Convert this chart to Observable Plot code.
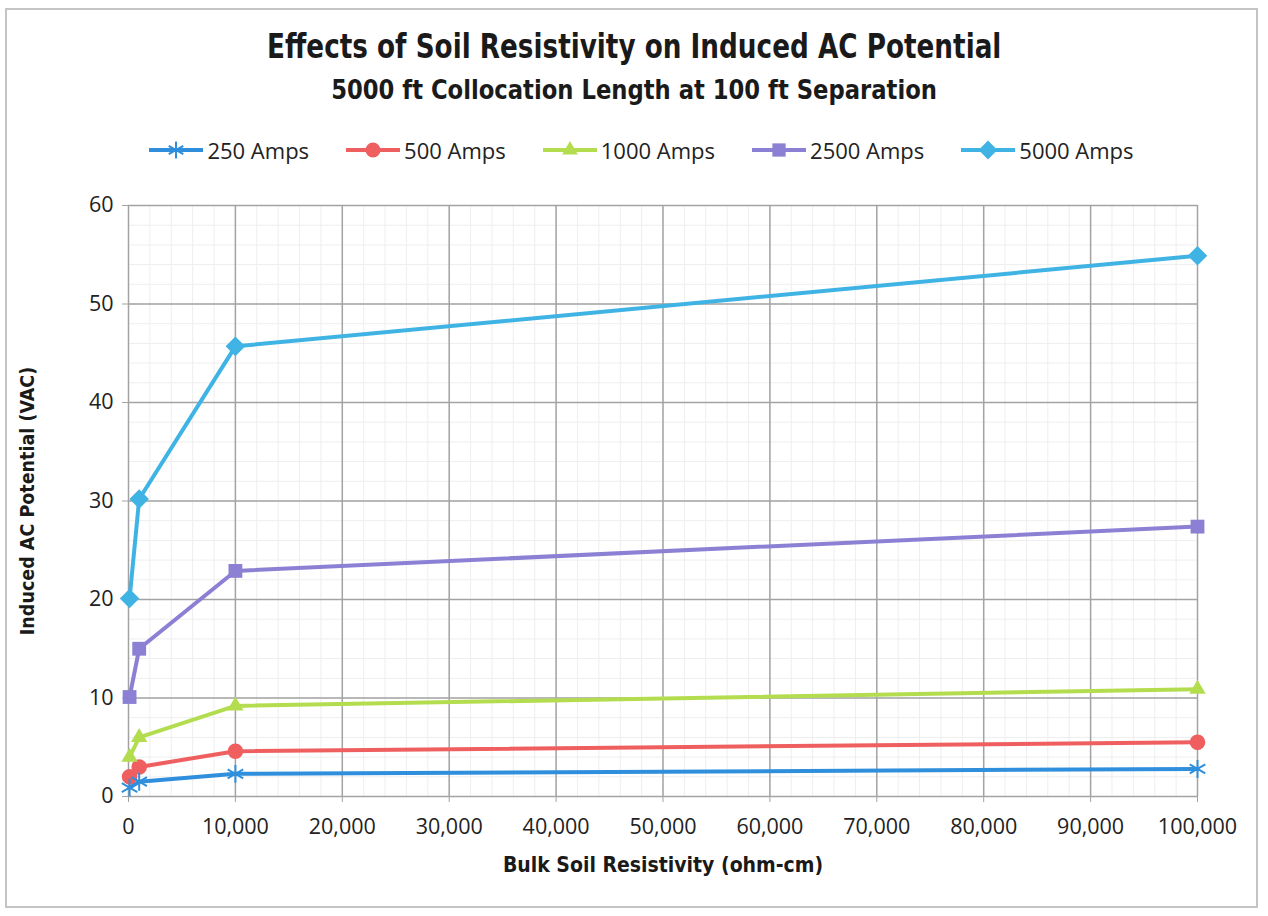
<!DOCTYPE html>
<html>
<head>
<meta charset="utf-8">
<script src="https://cdn.jsdelivr.net/npm/d3@7"></script>
<script src="https://cdn.jsdelivr.net/npm/@observablehq/plot@0.6"></script>
<style>
  html, body { margin: 0; padding: 0; background: #fff; }
  #page { position: relative; width: 1268px; height: 916px; overflow: hidden; }
  #frame { position: absolute; left: 5px; top: 8px; width: 1253px; height: 900px; border: 2px solid #c4c4c4; box-sizing: border-box; }
  #header { position: relative; height: 180px; }
  .title { position: absolute; left: 0; width: 1268px; text-align: center; font-family: "Liberation Sans Narrow", "DejaVu Sans Condensed", "Roboto Condensed", Roboto, sans-serif; font-weight: bold; color: #1a1a1a; font-stretch: condensed; white-space: nowrap; }
  #t1 { top: 27px; font-size: 33px; transform: scaleX(0.885); transform-origin: 636px 0; }
  #t2 { top: 74px; font-size: 27px; transform: scaleX(0.935); transform-origin: 635px 0; }
  #legend { position: absolute; top: 135px; left: 0; width: 1268px; display: flex; justify-content: center; gap: 36px; font-family: "Open Sans", sans-serif; font-size: 22px; color: #222; padding-left: 14px; box-sizing: border-box; }
  .item { display: flex; align-items: center; gap: 3px; }
  #chart { position: relative; }
  #chart svg [aria-label="y-axis label"] text { font-weight: bold; font-size: 19.5px; font-family: "Liberation Sans Narrow", "DejaVu Sans Condensed", Roboto, sans-serif; fill: #1a1a1a; }
</style>
</head>
<body>
<div id="page">
  <div id="frame"></div>
  <div id="header">
    <div class="title" id="t1"></div>
    <div class="title" id="t2"></div>
    <div id="legend"></div>
  </div>
  <div id="chart"></div>
</div>
<script>
const titleText = "Effects of Soil Resistivity on Induced AC Potential";
const subtitleText = "5000 ft Collocation Length at 100 ft Separation";
const xLabel = "Bulk Soil Resistivity (ohm-cm)";
const yLabel = "Induced AC Potential (VAC)";

// Bulk soil resistivity (ohm-cm)
const resistivity = [100, 1000, 10000, 100000];
// series
const seriesNames = ["250 Amps", "500 Amps", "1000 Amps", "2500 Amps", "5000 Amps"];
const seriesColors = ["#2f8fdc", "#ef5f5f", "#b3dd4e", "#8b80d4", "#3fb3e4"];
const seriesSymbols = ["asterisk", "circle", "triangle", "square", "diamond"];
const amps250 = [0.9, 1.5, 2.3, 2.8];
const amps500 = [2.0, 3.0, 4.6, 5.5];
const amps1000 = [4.0, 6.0, 9.2, 10.9];
const amps2500 = [10.1, 15.0, 22.9, 27.4];
const amps5000 = [20.1, 30.2, 45.7, 54.9];
// ticks
const xTicks = [0, 10000, 20000, 30000, 40000, 50000, 60000, 70000, 80000, 90000, 100000];
const yTicks = [0, 10, 20, 30, 40, 50, 60];
const xMinor = d3.range(0, 100001, 2000);
const yMinor = d3.range(0, 61, 2);

const seriesValues = [amps250, amps500, amps1000, amps2500, amps5000];
const data = seriesNames.flatMap((name, s) =>
  resistivity.map((x, i) => ({series: name, x, y: seriesValues[s][i]})));

document.getElementById("t1").textContent = titleText;
document.getElementById("t2").textContent = subtitleText;

// legend
const legend = document.getElementById("legend");
seriesNames.forEach((name, i) => {
  const item = document.createElement("div");
  item.className = "item";
  const svg = d3.create("svg").attr("width", 56).attr("height", 24);
  svg.append("line").attr("x1", 1).attr("x2", 55).attr("y1", 12).attr("y2", 12)
    .attr("stroke", seriesColors[i]).attr("stroke-width", 4);
  const sym = seriesSymbols[i];
  const g = svg.append("g").attr("transform", `translate(28,12)` + (sym === "diamond" ? " rotate(45)" : ""));
  if (sym === "asterisk") {
    g.append("path").attr("d", d3.symbol(d3.symbolAsterisk, Math.PI * 64)()).attr("fill", "none")
      .attr("stroke", seriesColors[i]).attr("stroke-width", 2);
  } else {
    const t = {circle: d3.symbolCircle, triangle: d3.symbolTriangle2, square: d3.symbolSquare, diamond: d3.symbolSquare}[sym];
    g.append("path").attr("d", d3.symbol(t, Math.PI * 56)()).attr("fill", seriesColors[i]);
  }
  item.appendChild(svg.node());
  const span = document.createElement("span");
  span.textContent = name;
  item.appendChild(span);
  legend.appendChild(item);
});

const filled = data.filter(d => d.series !== "250 Amps");
const stars = data.filter(d => d.series === "250 Amps");

const chart = Plot.plot({
  width: 1268,
  height: 730,
  marginLeft: 128,
  marginRight: 71,
  marginTop: 25,
  marginBottom: 114,
  style: {fontFamily: "'Open Sans', sans-serif", fontSize: "21.5px", color: "#222", background: "transparent"},
  x: {domain: [0, 100000]},
  y: {domain: [0, 60]},
  color: {domain: seriesNames, range: seriesColors},
  symbol: {domain: seriesNames, range: ["asterisk", "circle", "triangle2", "square", "square"]},
  marks: [
    Plot.ruleX(xMinor, {stroke: "#eeeeee", strokeWidth: 1}),
    Plot.ruleY(yMinor, {stroke: "#eeeeee", strokeWidth: 1}),
    Plot.ruleX(xTicks, {stroke: "#a3a3a3", strokeWidth: 1.5}),
    Plot.ruleY(yTicks, {stroke: "#a3a3a3", strokeWidth: 1.5}),
    Plot.axisX({ticks: xTicks, tickFormat: d3.format(","), tickSize: 6, tickPadding: 16, stroke: "#a3a3a3", label: null}),
    Plot.axisY({ticks: yTicks, tickSize: 6, tickPadding: 9, stroke: "#a3a3a3",
      label: yLabel, labelAnchor: "center", labelOffset: 108, labelArrow: "none"}),
    Plot.line(data, {x: "x", y: "y", z: "series", stroke: "series", strokeWidth: 4, strokeLinejoin: "round"}),
    Plot.dot(filled, {x: "x", y: "y", fill: "series", symbol: "series", r: 7.8,
      rotate: d => d.series === "5000 Amps" ? 45 : 0}),
    Plot.dot(stars, {x: "x", y: "y", stroke: "series", symbol: "series", r: 8.5, strokeWidth: 2}),
    Plot.text([xLabel], {frameAnchor: "bottom", dy: 75, text: d => d, fontWeight: "bold",
      fontSize: 21, fontFamily: "'Liberation Sans Narrow', 'DejaVu Sans Condensed', Roboto, sans-serif", fill: "#1a1a1a"})
  ]
});
document.getElementById("chart").appendChild(chart);
</script>
</body>
</html>
